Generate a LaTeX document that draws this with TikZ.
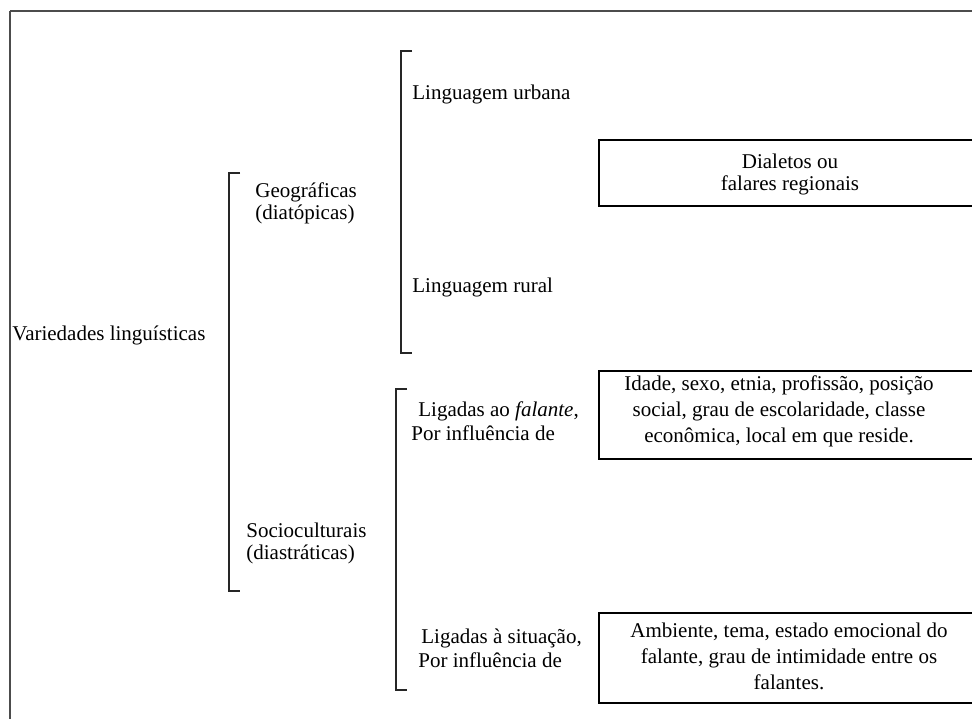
\documentclass[tikz,border=0pt]{standalone}
\usepackage{fontspec}
\setmainfont{Liberation Serif}
\begin{document}
\begin{tikzpicture}[x=0.5pt,y=-0.5pt,
  lbl/.style={anchor=west,inner sep=0pt,align=left,font=\fontsize{10.5pt}{11pt}\selectfont},
  boxtxt/.style={inner sep=0pt,align=center,font=\fontsize{10.5pt}{13pt}\selectfont},
  boxframe/.style={draw=black,line width=0.75pt},
  brk/.style={draw=black!85,line width=0.8pt},
  frame/.style={draw=black!70,line width=1.1pt}]
\clip (0,0) rectangle (972,718);
\fill[white] (0,0) rectangle (972,718);
% outer frame
\draw[frame] (10,11) -- (980,11);
\draw[frame] (10,11) -- (10,730);
% brackets
\draw[brk] (240,173) -- (229,173) -- (229,591) -- (240,591);
\draw[brk] (412,51) -- (401,51) -- (401,353) -- (412,353);
\draw[brk] (407,389) -- (396,389) -- (396,690) -- (407,690);
% labels
\node[lbl] (var) at (12,335) {Variedades linguísticas};
\node[lbl] (geo) at (255,203) {Geográficas\\(diatópicas)};
\node[lbl] (soc) at (246,543) {Socioculturais\\(diastráticas)};
\node[lbl] (urb) at (412,94) {Linguagem urbana};
\node[lbl] (rur) at (412,287) {Linguagem rural};
\node[lbl] (fal1) at (418,411) {Ligadas ao \textit{falante},};
\node[lbl] (fal2) at (411,433) {Por influência de};
\node[lbl] (sit1) at (421,638) {Ligadas à situação,};
\node[lbl] (sit2) at (418,660) {Por influência de};
% boxes
\draw[boxframe] (599,140) rectangle (985,206);
\node[boxtxt,font=\fontsize{10.5pt}{11pt}\selectfont] (dia) at (790,174) {Dialetos ou\\falares regionais};
\draw[boxframe] (599,371) rectangle (985,459);
\node[boxtxt] (ida) at (779,411) {Idade, sexo, etnia, profissão, posição\\social, grau de escolaridade, classe\\econômica, local em que reside.};
\draw[boxframe] (599,613) rectangle (985,703);
\node[boxtxt] (amb) at (789,656) {Ambiente, tema, estado emocional do\\falante, grau de intimidade entre os\\falantes.};
\end{tikzpicture}
\end{document}
